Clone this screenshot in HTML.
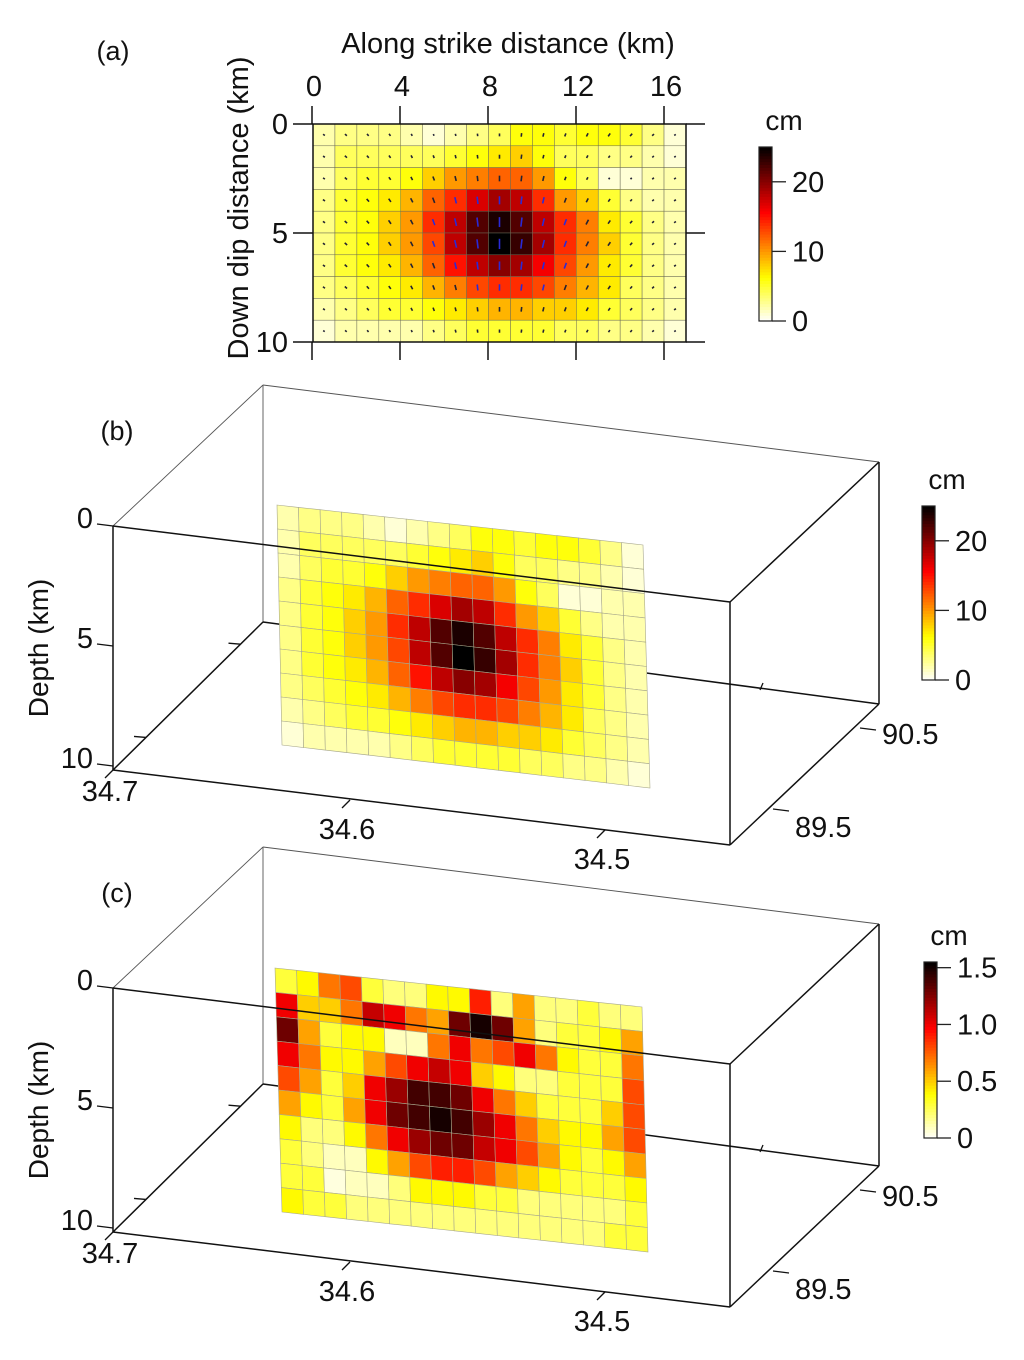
<!DOCTYPE html>
<html><head><meta charset="utf-8">
<style>
html,body{margin:0;padding:0;background:#fff;}
svg{display:block;font-family:"Liberation Sans",Arial,sans-serif;}
</style></head>
<body>
<svg id="fig" width="1024" height="1360" viewBox="0 0 1024 1360" xmlns="http://www.w3.org/2000/svg">
<g id="pa"></g>
<g id="pb"></g>
<g id="pc"></g>
</svg>
<script>
// ---- data ----
const strikeTicks = [0, 4, 8, 12, 16];
const dipTicks = [0, 5, 10];
const cbTicksAB = [0, 10, 20];
const cbTicksC = [0, 0.5, 1.0, 1.5];
const cbLabelsC = ["0", "0.5", "1.0", "1.5"];
const lonTicks = ["34.7", "34.6", "34.5"];
const latTicks = ["89.5", "90.5"];
const depthTicks = [0, 5, 10];
const slipA = [
 [2,3,3,3,2,1,2,3,4,6,6,5,6,6,5,3,1],
 [2,4,4,4,4,4,5,6,7,8,6,4,4,3,3,2,1],
 [2,4,5,5,6,8,10,11,12,12,10,6,4,1,1,2,2],
 [3,5,6,7,9,12,14,17,19,18,14,10,8,5,3,2,2],
 [3,5,6,8,10,14,18,22,24,22,18,14,11,7,5,3,2],
 [3,5,6,8,10,13,18,22,25,23,19,14,11,8,5,3,2],
 [3,5,6,7,9,12,15,18,20,19,16,13,10,7,5,3,2],
 [3,4,5,6,7,9,11,13,14,14,13,11,9,7,4,3,2],
 [2,3,4,5,5,6,7,8,9,9,8,8,7,5,4,3,2],
 [1,2,2,2,2,3,4,5,5,5,5,4,4,3,3,2,1]
];
const slipB = [
 [2,3,3,3,2,1,2,3,4,6,6,5,6,6,5,3,1],
 [2,4,4,4,4,4,5,6,7,8,6,4,4,3,3,2,1],
 [2,4,5,5,6,8,10,11,12,12,10,6,4,1,1,2,2],
 [3,5,6,7,9,12,14,17,19,18,14,10,8,5,3,2,2],
 [3,5,6,8,10,14,18,22,24,22,18,14,11,7,5,3,2],
 [3,5,6,8,10,13,18,22,25,23,19,14,11,8,5,3,2],
 [3,5,6,7,9,12,15,18,20,19,16,13,10,7,5,3,2],
 [3,4,5,6,7,9,11,13,14,14,13,11,9,7,4,3,2],
 [2,3,4,5,5,6,7,8,9,9,8,8,7,5,4,3,2],
 [1,2,2,2,2,3,4,5,5,5,5,4,4,3,3,2,1]
];
const slipC = [
 [.3,.4,.7,.8,.3,.2,.2,.4,.4,.9,.2,.6,.2,.2,.3,.2,.2],
 [1.0,.5,.5,.7,1.1,1.0,.7,.6,1.3,1.5,1.3,.6,.2,.3,.3,.4,.6],
 [1.3,.6,.3,.4,.4,.1,.1,.7,1.0,.7,.8,1.0,.7,.4,.3,.3,.7],
 [1.0,.7,.4,.4,.6,.8,1.0,1.1,1.0,.5,.4,.2,.2,.3,.3,.3,.8],
 [.8,.6,.3,.5,1.0,1.2,1.4,1.4,1.3,1.0,.7,.5,.3,.3,.3,.5,.8],
 [.6,.4,.3,.6,1.0,1.3,1.4,1.5,1.4,1.2,1.0,.7,.5,.4,.4,.6,.8],
 [.4,.2,.2,.4,.7,1.0,1.2,1.3,1.3,1.1,1.0,.8,.6,.4,.3,.4,.6],
 [.3,.2,.1,.1,.4,.6,.8,.9,.9,.8,.6,.5,.4,.3,.3,.3,.4],
 [.3,.3,.05,.1,.1,.2,.4,.4,.4,.3,.3,.2,.2,.2,.2,.2,.3],
 [.4,.3,.3,.2,.2,.2,.2,.2,.2,.2,.2,.2,.2,.2,.2,.3,.3]
];
// ---- helpers ----
const NS = "http://www.w3.org/2000/svg";
function mk(parent, tag, attrs, text) {
  const e = document.createElementNS(NS, tag);
  for (const k in attrs) e.setAttribute(k, attrs[k]);
  if (text !== undefined) e.textContent = text;
  parent.appendChild(e);
  return e;
}
function hotR(t) {
  t = Math.max(0, Math.min(1, t));
  const u = 1 - t;
  const r = Math.min(1, u / 0.375), g = Math.max(0, Math.min(1, (u - 0.375) / 0.375)), b = Math.max(0, Math.min(1, (u - 0.75) / 0.25));
  return `rgb(${Math.round(r*255)},${Math.round(g*255)},${Math.round(b*255)})`;
}
function line(p, x1, y1, x2, y2, w, c, name) {
  const l = mk(p, "line", {x1, y1, x2, y2, stroke: c || "#000", "stroke-width": w || 1.5});
  
  
  return l;
}
function txt(p, x, y, s, size, anchor, name, extra) {
  const t = mk(p, "text", Object.assign({x, y, "font-size": size, "text-anchor": anchor || "middle", fill: "#111"}, extra || {}), s);
  
  
  return t;
}
function colorbar(p, x, y0, y1, vmax, ticks, labels, name) {
  const g = mk(p, "g", {});
  
  
  const w = 13, n = 60, h = (y1 - y0) / n;
  for (let i = 0; i < n; i++) {
    const r = mk(g, "rect", {x, y: y1 - (i + 1) * h, width: w, height: h + 0.6, fill: hotR((i + 0.5) / n)});
    
    
  }
  const fr = mk(g, "rect", {x, y: y0, width: w, height: y1 - y0, fill: "none", stroke: "#222", "stroke-width": 1.2});
  
  
  const sy = v => y1 - v / vmax * (y1 - y0);
  ticks.forEach((v, i) => {
    line(g, x + w, sy(v), x + w + 14, sy(v), 1.3, "#222", 'colorbar-tick');
    txt(g, x + w + 20, sy(v) + 10, labels[i], 29, "start", 'colorbar-tick-label');
  });
  txt(g, x + w + 12, y0 - 17, "cm", 28, "middle", 'colorbar-unit');
}
// ---- panel a ----
(function () {
  const p = document.getElementById("pa");
  const gx0 = 313, gy0 = 124, cw = 21.94, ch = 21.8, vmax = 25;
  const sx = km => 312 + km * 22, sy = km => 124 + km * 21.8;
  slipA.forEach((row, r) => row.forEach((v, c) => {
    const rc = mk(p, "rect", {x: gx0 + c * cw, y: gy0 + r * ch, width: cw, height: ch, fill: hotR(v / vmax), stroke: "#6b6b55", "stroke-width": 0.5});
    
    
    const len = 1.5 + v * 0.35, cx = gx0 + (c + 0.5) * cw, cy = gy0 + (r + 0.5) * ch;
    const ang = (c - 8) * 0.12;
    const ar = mk(p, "line", {x1: cx - Math.sin(ang) * len / 2, y1: cy + Math.cos(ang) * len / 2, x2: cx + Math.sin(ang) * len / 2, y2: cy - Math.cos(ang) * len / 2, stroke: v > 12 ? "#2a2ad8" : "#223", "stroke-width": 1.6});
    
    
  }));
  const fr = mk(p, "rect", {x: 313, y: 124, width: 373, height: 218, fill: "none", stroke: "#111", "stroke-width": 1.5});
  
  
  strikeTicks.forEach(k => {
    line(p, sx(k), 124, sx(k), 106, 1.5, "#111", 'x-tick');
    line(p, sx(k), 342, sx(k), 360, 1.5, "#111", 'x-tick');
    txt(p, sx(k) + 2, 96, String(k), 29, "middle", 'x-tick-label');
  });
  dipTicks.forEach(k => {
    line(p, 293, sy(k), 313, sy(k), 1.5, "#111", 'y-tick');
    line(p, 686, sy(k), 705, sy(k), 1.5, "#111", 'y-tick');
    txt(p, 288, sy(k) + 10, String(k), 29, "end", 'y-tick-label');
  });
  txt(p, 508, 53, "Along strike distance (km)", 29, "middle", 'x-axis-title');
  txt(p, 248, 208, "Down dip distance (km)", 29, "middle", 'y-axis-title', {transform: "rotate(-90 248 208)"});
  txt(p, 113, 60, "(a)", 27, "middle", 'panel-label');
  colorbar(p, 759, 147, 321, 25, cbTicksAB, ["0", "10", "20"], 'colorbar-a');
})();
// ---- 3D panels ----
function panel3d(id, dy, data, vmax, corners, cbTicks, cbLabels, cbY0, cbY1, cbX, cbMax, label) {
  const p = document.getElementById(id);
  const A = [113, 526 + dy], B = [113, 770 + dy], C = [263, 385 + dy], CB = [263, 622 + dy];
  const D = [730, 602 + dy], E = [730, 845 + dy], F = [879, 462 + dy], G = [879, 704 + dy];
  line(p, C[0], C[1], F[0], F[1], 0.9, "#555", 'box-back-edge');
  line(p, A[0], A[1], C[0], C[1], 0.9, "#555", 'box-back-edge');
  line(p, C[0], C[1], CB[0], CB[1], 0.9, "#555", 'box-back-edge');
  line(p, CB[0], CB[1], G[0], G[1], 1.5, "#111", 'box-bottom-back-edge');
  line(p, B[0], B[1], CB[0], CB[1], 1.5, "#111", 'box-bottom-left-edge');
  [0.22, 0.85].forEach(f => {
    const x = B[0] + (CB[0] - B[0]) * f, y = B[1] + (CB[1] - B[1]) * f;
    line(p, x, y, x - 12, y - 1, 1.3, "#111", 'y-tick');
  });
  line(p, 760, 690 + dy, 763, 683 + dy, 1.3, "#111", 'tick');
  const [TL, TR, BL, BR] = corners;
  const nr = data.length, nc = data[0].length;
  const pt = (u, v) => {
    const tx = TL[0] + (TR[0] - TL[0]) * u, ty = TL[1] + (TR[1] - TL[1]) * u;
    const bx = BL[0] + (BR[0] - BL[0]) * u, by = BL[1] + (BR[1] - BL[1]) * u;
    return [tx + (bx - tx) * v, ty + (by - ty) * v + dy];
  };
  data.forEach((row, r) => row.forEach((val, c) => {
    const a = pt(c / nc, r / nr), b = pt((c + 1) / nc, r / nr), d = pt((c + 1) / nc, (r + 1) / nr), e = pt(c / nc, (r + 1) / nr);
    const poly = mk(p, "polygon", {points: [a, b, d, e].map(q => q[0].toFixed(1) + "," + q[1].toFixed(1)).join(" "), fill: hotR(val / vmax), stroke: "#a9a98c", "stroke-width": 0.6});
    
    
  }));
  line(p, A[0], A[1], D[0], D[1], 1.5, "#111", 'box-top-front-edge');
  line(p, A[0], A[1], B[0], B[1], 1.5, "#111", 'depth-axis');
  line(p, B[0], B[1], E[0], E[1], 1.5, "#111", 'longitude-axis');
  line(p, D[0], D[1], E[0], E[1], 1.5, "#111", 'box-front-right-edge');
  line(p, D[0], D[1], F[0], F[1], 1.5, "#111", 'box-top-right-edge');
  line(p, E[0], E[1], G[0], G[1], 1.5, "#111", 'latitude-axis');
  line(p, F[0], F[1], G[0], G[1], 1.5, "#111", 'box-back-right-edge');
  depthTicks.forEach(k => {
    const y = A[1] + (B[1] - A[1]) * k / 10 - k * 0.4;
    line(p, 97, y - 2, 113, y, 1.3, "#111", 'depth-tick');
    txt(p, 93, y + 2, String(k), 29, "end", 'depth-tick-label');
  });
  txt(p, 48, 648 + dy, "Depth (km)", 28, "middle", 'depth-axis-title', {transform: `rotate(-90 48 ${648 + dy})`});
  const lonPos = [[113, 770, 801], [350, 800, 839], [605, 830, 869]];
  lonTicks.forEach((s, i) => {
    const [x, y, ty] = lonPos[i];
    line(p, x, y + dy, x - 8, y + 8 + dy, 1.3, "#111", 'longitude-tick');
    txt(p, x - 3, ty + dy, s, 29, "middle", 'longitude-tick-label');
  });
  const latPos = [[773, 809, 837], [860, 728, 744]];
  latTicks.forEach((s, i) => {
    const [x, y, ty] = latPos[i];
    line(p, x, y + dy, x + 16, y + 2 + dy, 1.3, "#111", 'latitude-tick');
    txt(p, x + 22, ty + dy, s, 29, "start", 'latitude-tick-label');
  });
  txt(p, 117, 440 + dy, label, 27, "middle", 'panel-label');
  colorbar(p, cbX, cbY0, cbY1, cbMax, cbTicks, cbLabels, 'colorbar-' + id);
}
panel3d("pb", 0, slipB, 25, [[277, 505], [643, 545], [282, 745], [650, 788]], cbTicksAB, ["0", "10", "20"], 506, 680, 922, 25, "(b)");
panel3d("pc", 462, slipC, 1.55, [[275, 506], [642, 545], [282, 750], [648, 790]], cbTicksC, cbLabelsC, 962, 1138, 924, 1.55, "(c)");
</script>
</body></html>
